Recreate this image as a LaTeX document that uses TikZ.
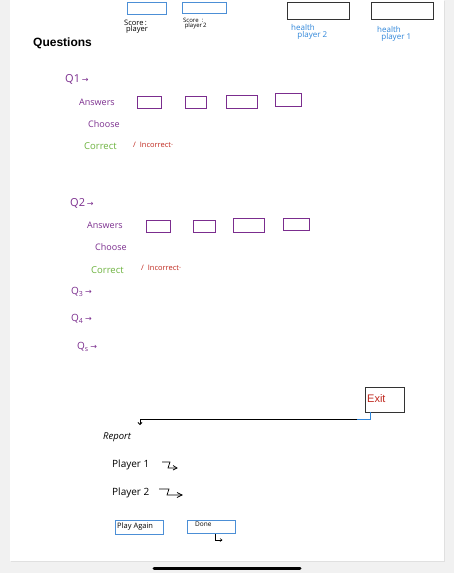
\documentclass[tikz,border=0pt]{standalone}
\usepackage{fontspec}
\setmainfont{Liberation Sans}
\newfontfamily\hand{Open Sans}
\newfontfamily\dv{DejaVu Sans}
\usetikzlibrary{arrows.meta}
\definecolor{bggray}{HTML}{F1F1F1}
\definecolor{hpurple}{HTML}{7B2D8E}
\definecolor{hgreen}{HTML}{6DB33F}
\definecolor{hred}{HTML}{C0281E}
\definecolor{hblue}{HTML}{2F86DA}
\definecolor{sblue}{HTML}{4C8FD6}
\definecolor{boxgray}{HTML}{333333}
\tikzset{
  x=1pt,y=-1pt,
  txt/.style={inner sep=0pt,anchor=west,font=\hand},
  ans/.style={draw=hpurple,line width=0.9pt,inner sep=0pt},
  sbox/.style={draw=sblue,line width=0.8pt,inner sep=0pt},
  hbox/.style={draw=boxgray,line width=0.8pt,inner sep=0pt},
  qlab/.style={txt,text=hpurple,font=\hand\fontsize{11}{12}\selectfont},
  plab/.style={txt,text=hpurple,font=\hand\fontsize{9}{10}\selectfont},
  klab/.style={txt,font=\hand\fontsize{7.5}{7}\selectfont},
}
\begin{document}
\begin{tikzpicture}
\useasboundingbox (0,0) rectangle (454,573);
\fill[bggray] (0,0) rectangle (454,573);
\fill[black!12] (11,1) rectangle (445,562);
\fill[white] (10,0) rectangle (444,561);
\draw[black,line width=3pt,line cap=round] (154,568) -- (300,568);

% top boxes
\node[sbox,minimum width=39pt,minimum height=12pt] (s1) at (146.5,8) {};
\node[sbox,minimum width=44pt,minimum height=11pt] (s2) at (204,7.5) {};
\node[hbox,minimum width=62pt,minimum height=17pt] (h2) at (318,10.5) {};
\node[hbox,minimum width=62pt,minimum height=17pt] (h1) at (402,10.5) {};
\node[klab,align=left] (s1t) at (124,27) {Score\,:\\[-1pt]\ player};
\node[klab,align=left,font=\hand\fontsize{6}{6}\selectfont] (s2t) at (183,24) {Score\ \ :\\[-1pt]\ player\,2};
\node[txt,align=left,text=hblue,font=\hand\fontsize{8}{8}\selectfont] (h2t) at (291,32) {health\\[-1pt]\ \ \ player 2};
\node[txt,align=left,text=hblue,font=\hand\fontsize{8}{8}\selectfont] (h1t) at (377,34) {health\\[-1pt]\ \ player 1};

\node[txt,font=\fontsize{12}{14}\selectfont\bfseries] (qs) at (33,43) {Questions};

% Q1
\node[qlab] (q1) at (65,79) {Q1\,{\dv\fontsize{8}{9}\selectfont →}};
\node[plab] (a1) at (79,102) {Answers};
\node[ans,minimum width=24pt,minimum height=12pt] (a1b1) at (149,102) {};
\node[ans,minimum width=21pt,minimum height=12pt] (a1b2) at (195.5,102) {};
\node[ans,minimum width=31pt,minimum height=13pt] (a1b3) at (241.5,101.5) {};
\node[ans,minimum width=26pt,minimum height=13pt] (a1b4) at (288,99.5) {};
\node[plab] (c1) at (88,124) {Choose};
\node[txt,text=hgreen,font=\hand\fontsize{9.5}{10}\selectfont] (g1) at (84,146) {Correct};
\node[txt,text=hred,font=\hand\fontsize{7.5}{8}\selectfont] (r1) at (133,145) {/\ \ Incorrect\textperiodcentered};

% Q2
\node[qlab] (q2) at (70,203) {Q2\,{\dv\fontsize{8}{9}\selectfont →}};
\node[plab] (a2) at (87,225) {Answers};
\node[ans,minimum width=24pt,minimum height=12pt] (a2b1) at (158,226) {};
\node[ans,minimum width=22pt,minimum height=12pt] (a2b2) at (204,226) {};
\node[ans,minimum width=31pt,minimum height=14pt] (a2b3) at (248.5,225) {};
\node[ans,minimum width=26pt,minimum height=12pt] (a2b4) at (296,224) {};
\node[plab] (c2) at (95,247) {Choose};
\node[txt,text=hgreen,font=\hand\fontsize{9.5}{10}\selectfont] (g2) at (91,270) {Correct};
\node[txt,text=hred,font=\hand\fontsize{7.5}{8}\selectfont] (r2) at (141,268) {/\ \ Incorrect\textperiodcentered};

\node[qlab,font=\hand\fontsize{10}{10}\selectfont] (q3) at (71,292) {Q\textsubscript{3}\,{\dv\fontsize{8}{8}\selectfont →}};
\node[qlab,font=\hand\fontsize{10}{10}\selectfont] (q4) at (71,319) {Q\textsubscript{4}\,{\dv\fontsize{8}{8}\selectfont →}};
\node[qlab,font=\hand\fontsize{10}{10}\selectfont] (q5) at (77,347) {Q\textsubscript{s}\,{\dv\fontsize{8}{8}\selectfont →}};

% Exit
\node[draw=boxgray,line width=0.8pt,minimum width=39pt,minimum height=25pt,inner sep=0pt] (exit) at (384.5,399.5) {};
\node[txt,text=hred,font=\fontsize{11}{12}\selectfont] (exitt) at (367,399) {Exit};
\coordinate (e1) at (370,419);
\coordinate (e2) at (357,419);
\coordinate (e3) at (140,425);
\draw[hblue,line width=0.8pt] (exit.south west -| e1) -- (e1) -- (e2);
\draw[black,line width=0.8pt,-{Straight Barb[length=2pt,width=4pt]}] (e2) -| (e3);

% report
\node[txt,font=\hand\itshape\fontsize{9.5}{10}\selectfont] (rep) at (103,437) {Report};
\node[txt,font=\hand\fontsize{10}{10}\selectfont] (p1) at (112,465) {Player 1};
\node[txt,font=\hand\fontsize{10}{10}\selectfont] (p2) at (112,493) {Player 2};
\draw[line width=0.7pt] (162,462) -- (170,462) -- (168,468) -- (177,468);
\draw[line width=0.7pt] (173,465.5) -- (177,468) -- (173,470);
\draw[line width=0.7pt] (159,489) -- (169,489) -- (167,495) -- (182,495);
\draw[line width=0.7pt] (177,492.5) -- (182,495) -- (177,497.5);

\node[sbox,minimum width=48pt,minimum height=14pt] (play) at (139,527) {};
\node[txt,font=\hand\fontsize{7.5}{8}\selectfont] (playt) at (117,527) {Play Again};
\node[sbox,minimum width=48pt,minimum height=13pt] (done) at (211,526.5) {};
\node[txt,font=\hand\fontsize{6.5}{7}\selectfont] (donet) at (195,524) {Done};
\draw[line width=0.6pt] (215,534) -- (215,540) -- (222,540);
\draw[line width=0.6pt] (220,538.5) -- (222,540) -- (220,541.5);
\end{tikzpicture}
\end{document}
